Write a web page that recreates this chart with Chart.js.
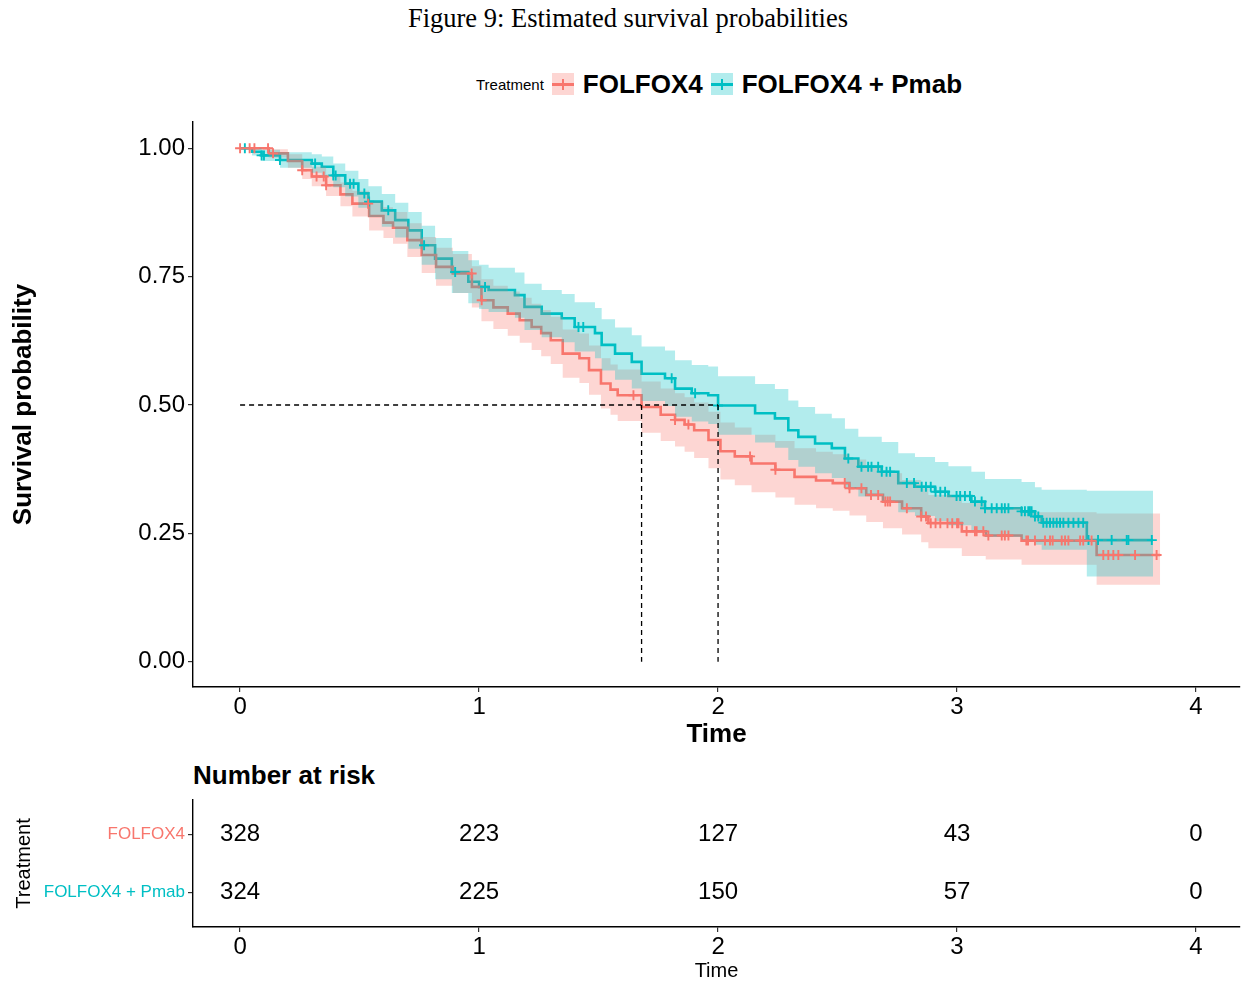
<!DOCTYPE html>
<html>
<head>
<meta charset="utf-8">
<script src="https://cdn.jsdelivr.net/npm/chart.js@4.4.0/dist/chart.umd.min.js"></script>
<style>
  body { margin:0; background:#fff; width:1241px; height:981px; position:relative; overflow:hidden;
         font-family:"Liberation Sans", Arial, sans-serif; color:#000; }
  canvas { position:absolute; left:0; }
  #km { top:0; }
  #risk { top:760px; }
  #title { position:absolute; top:3px; left:0; width:1256px; text-align:center;
           font-family:"Liberation Serif","Times New Roman",serif; font-size:26.5px; }
  #legend { position:absolute; top:70px; left:476px; display:flex; align-items:center; height:28px; }
  #legend .lab { font-size:15px; }
  #legend .key { position:relative; width:22px; height:22px; margin-left:8px; }
  #legend .key .h { position:absolute; left:0; right:0; top:10px; height:2.6px; }
  #legend .key .v { position:absolute; left:10px; top:6px; width:2px; height:11px; }
  #legend .name { font-size:26px; font-weight:bold; margin-left:9px; }
  #riskTitle { position:absolute; top:760px; left:193px; font-size:26px; font-weight:bold; }
</style>
</head>
<body>
<div id="title">Figure 9: Estimated survival probabilities</div>
<div id="legend"></div>
<canvas id="km" width="1241" height="760"></canvas>
<div id="riskTitle">Number at risk</div>
<canvas id="risk" width="1241" height="223"></canvas>
<script>
// ===== Data =====
const groups = ['FOLFOX4', 'FOLFOX4 + Pmab'];
const groupColors = ['#F8766D', '#00BFC4'];
const bandColors = ['rgba(248,118,109,0.3)', 'rgba(0,191,196,0.3)'];
const legendTitle = 'Treatment';

// FOLFOX4 : step times, survival, CI upper / lower
const f4Time  = [0, 0.12, 0.20, 0.26, 0.30, 0.36, 0.42, 0.47, 0.54, 0.60, 0.64, 0.70, 0.76, 0.82, 0.89, 0.97,
                 1.01, 1.06, 1.12, 1.17, 1.22, 1.26, 1.30, 1.35, 1.42, 1.46, 1.51, 1.55, 1.58, 1.68, 1.76, 1.82,
                 1.86, 1.90, 1.96, 2.01, 2.07, 2.14, 2.24, 2.32, 2.41, 2.48, 2.55, 2.62, 2.69, 2.77, 2.85, 2.88,
                 3.02, 3.12, 3.27, 3.584, 3.85];
const f4Surv  = [1.000, 0.990, 0.975, 0.957, 0.945, 0.928, 0.910, 0.892, 0.868, 0.855, 0.845, 0.821, 0.792, 0.769, 0.756, 0.730,
                 0.704, 0.690, 0.678, 0.665, 0.652, 0.640, 0.626, 0.600, 0.591, 0.568, 0.542, 0.530, 0.519, 0.496, 0.481, 0.471,
                 0.462, 0.451, 0.432, 0.410, 0.400, 0.386, 0.374, 0.360, 0.353, 0.348, 0.338, 0.325, 0.312, 0.299, 0.283, 0.270,
                 0.254, 0.246, 0.236, 0.208, 0.208];
const f4Upper = [1.000, 0.998, 0.988, 0.974, 0.964, 0.949, 0.933, 0.917, 0.896, 0.885, 0.876, 0.854, 0.827, 0.806, 0.794, 0.770,
                 0.745, 0.732, 0.721, 0.709, 0.697, 0.685, 0.672, 0.647, 0.639, 0.616, 0.591, 0.579, 0.569, 0.546, 0.532, 0.523,
                 0.515, 0.505, 0.487, 0.466, 0.456, 0.442, 0.430, 0.416, 0.409, 0.404, 0.394, 0.381, 0.367, 0.354, 0.338, 0.325,
                 0.309, 0.301, 0.291, 0.289, 0.289];
const f4Lower = [1.000, 0.982, 0.962, 0.940, 0.926, 0.907, 0.887, 0.867, 0.840, 0.825, 0.814, 0.788, 0.757, 0.732, 0.718, 0.690,
                 0.663, 0.648, 0.635, 0.621, 0.607, 0.595, 0.580, 0.553, 0.543, 0.520, 0.493, 0.481, 0.469, 0.446, 0.430, 0.419,
                 0.409, 0.397, 0.377, 0.355, 0.344, 0.330, 0.320, 0.306, 0.299, 0.294, 0.285, 0.272, 0.260, 0.248, 0.233, 0.221,
                 0.206, 0.199, 0.189, 0.150, 0.150];
const f4Censor = [0, 0.04, 0.06, 0.117, 0.138, 0.26, 0.32, 0.35, 0.36, 0.536, 0.969, 1.011, 1.646, 1.82, 1.876, 2.134,
                  2.24, 2.53, 2.55, 2.60, 2.64, 2.67, 2.70, 2.71, 2.72, 2.79, 2.85, 2.87, 2.89, 2.91, 2.93, 2.96, 2.98, 3.0,
                  3.006, 3.04, 3.075, 3.082, 3.11, 3.131, 3.187, 3.2, 3.215, 3.29, 3.297, 3.326, 3.368, 3.389, 3.40,
                  3.438, 3.452, 3.466, 3.515, 3.528, 3.563, 3.612, 3.633, 3.654, 3.675, 3.745, 3.835];

// FOLFOX4 + Pmab
const pmTime  = [0, 0.05, 0.09, 0.167, 0.30, 0.342, 0.39, 0.44, 0.495, 0.537, 0.593, 0.649, 0.704, 0.76, 0.816, 0.886,
                 0.955, 1.0, 1.04, 1.15, 1.19, 1.262, 1.346, 1.40, 1.485, 1.513, 1.569, 1.639, 1.68, 1.778, 1.82, 1.89,
                 1.959, 2.0, 2.155, 2.238, 2.294, 2.336, 2.406, 2.476, 2.531, 2.587, 2.685, 2.754, 2.824, 2.908, 2.964,
                 3.06, 3.117, 3.27, 3.326, 3.354, 3.543, 3.82];
const pmSurv  = [1.000, 0.993, 0.986, 0.977, 0.970, 0.964, 0.947, 0.931, 0.912, 0.896, 0.879, 0.860, 0.840, 0.811, 0.785, 0.759,
                 0.740, 0.730, 0.724, 0.714, 0.691, 0.678, 0.669, 0.652, 0.640, 0.617, 0.600, 0.584, 0.561, 0.552, 0.532, 0.523,
                 0.519, 0.499, 0.484, 0.474, 0.451, 0.438, 0.425, 0.416, 0.396, 0.380, 0.370, 0.348, 0.341, 0.331, 0.323,
                 0.312, 0.299, 0.293, 0.283, 0.271, 0.237, 0.237];
const pmUpper = [1.000, 1.000, 0.997, 0.992, 0.988, 0.984, 0.970, 0.956, 0.940, 0.926, 0.911, 0.894, 0.876, 0.849, 0.825, 0.800,
                 0.782, 0.773, 0.767, 0.758, 0.736, 0.724, 0.716, 0.700, 0.689, 0.667, 0.651, 0.636, 0.614, 0.606, 0.587, 0.578,
                 0.575, 0.556, 0.541, 0.531, 0.509, 0.496, 0.483, 0.474, 0.454, 0.438, 0.428, 0.406, 0.399, 0.389, 0.381,
                 0.370, 0.356, 0.350, 0.340, 0.335, 0.333, 0.333];
const pmLower = [1.000, 0.986, 0.975, 0.962, 0.952, 0.944, 0.924, 0.906, 0.884, 0.866, 0.847, 0.826, 0.804, 0.773, 0.745, 0.718,
                 0.698, 0.687, 0.681, 0.670, 0.646, 0.632, 0.622, 0.604, 0.591, 0.567, 0.549, 0.532, 0.508, 0.498, 0.477, 0.468,
                 0.463, 0.442, 0.427, 0.417, 0.393, 0.380, 0.367, 0.358, 0.338, 0.322, 0.312, 0.291, 0.284, 0.274, 0.266,
                 0.256, 0.243, 0.237, 0.228, 0.218, 0.166, 0.166];
const pmCensor = [0.02, 0.09, 0.10, 0.167, 0.314, 0.39, 0.40, 0.46, 0.475, 0.52, 0.54, 0.62, 0.77, 0.90, 1.025, 1.416,
                  1.436, 1.806, 1.904, 2.0, 2.545, 2.60, 2.628, 2.642, 2.67, 2.685, 2.705, 2.72, 2.79, 2.82, 2.852, 2.87,
                  2.89, 2.91, 2.93, 2.95, 2.998, 3.013, 3.033, 3.054, 3.075, 3.103, 3.117, 3.145, 3.166, 3.187, 3.2, 3.215,
                  3.27, 3.284, 3.298, 3.305, 3.312, 3.326, 3.34, 3.361, 3.375, 3.389, 3.403, 3.417, 3.431, 3.445, 3.466,
                  3.487, 3.508, 3.528, 3.55, 3.59, 3.647, 3.71, 3.717, 3.815];

const medianTimes = [1.68, 2.0];
const xTicks = [0, 1, 2, 3, 4];
const yTicks = [0, 0.25, 0.5, 0.75, 1];

// Number at risk table
const riskTimes = [0, 1, 2, 3, 4];
const riskF4 = [328, 223, 127, 43, 0];
const riskPm = [324, 225, 150, 57, 0];

// ===== Helpers =====
const FONT = '"Liberation Sans", Arial, sans-serif';
Chart.defaults.font.family = FONT;
Chart.defaults.color = '#000';

const pts = (xs, ys) => xs.map((x, i) => ({ x, y: ys[i] }));
function survAt(times, surv, t) {
  let s = surv[0];
  for (let i = 0; i < times.length; i++) if (times[i] <= t) s = surv[i];
  return s;
}
const setTicks = arr => s => { s.ticks = arr.map(v => ({ value: v })); };

const stepLine = (xs, ys, color, order) => ({
  data: pts(xs, ys), borderColor: color, borderWidth: 2.6, pointRadius: 0,
  stepped: true, fill: false, order
});
const bandEdge = (xs, ys, order) => ({
  data: pts(xs, ys), borderColor: 'transparent', borderWidth: 0, pointRadius: 0,
  stepped: true, fill: false, order
});
const bandFill = (xs, ys, color, order) => ({
  data: pts(xs, ys), borderColor: 'transparent', borderWidth: 0, pointRadius: 0,
  stepped: true, fill: '-1', backgroundColor: color, order
});
const censor = (times, st, ss, color) => ({
  data: times.map(t => ({ x: t, y: survAt(st, ss, t) })),
  showLine: false, pointStyle: 'cross', pointRadius: 5, pointBorderWidth: 1.9,
  pointBorderColor: color, borderColor: color, order: 2
});
const dashed = data => ({
  data, borderColor: '#000', borderWidth: 1.3, borderDash: [5, 4], pointRadius: 0, fill: false, order: 1
});

// ===== Legend (html) =====
const legendEl = document.getElementById('legend');
let lh = `<span class="lab">${legendTitle}</span>`;
groups.forEach((g, i) => {
  lh += `<span class="key" style="background:${bandColors[i]}">
           <span class="h" style="background:${groupColors[i]}"></span>
           <span class="v" style="background:${groupColors[i]}"></span></span>
         <span class="name">${g}</span>`;
});
legendEl.innerHTML = lh;

// ===== Survival chart =====
const maxMedian = Math.max(...medianTimes);
const datasets = [
  stepLine(f4Time, f4Surv, groupColors[0], 5),
  stepLine(pmTime, pmSurv, groupColors[1], 5),
  bandEdge(f4Time, f4Lower, 4),
  bandFill(f4Time, f4Upper, bandColors[0], 4),
  bandEdge(pmTime, pmLower, 3),
  bandFill(pmTime, pmUpper, bandColors[1], 3),
  censor(f4Censor, f4Time, f4Surv, groupColors[0]),
  censor(pmCensor, pmTime, pmSurv, groupColors[1]),
  dashed([{ x: 0, y: 0.5 }, { x: maxMedian, y: 0.5 }]),
  ...medianTimes.map(m => dashed([{ x: m, y: 0.5 }, { x: m, y: 0 }]))
];

const axisGrid = { drawOnChartArea: false, drawTicks: true, tickLength: 5, color: '#333', lineWidth: 1.2 };
const axisBorder = { display: true, color: '#000', width: 1.4 };

new Chart(document.getElementById('km'), {
  type: 'line',
  data: { datasets },
  options: {
    responsive: false, animation: false, events: [],
    layout: { autoPadding: false, padding: { top: 122, left: 0, right: 1, bottom: 0 } },
    plugins: { legend: { display: false }, tooltip: { enabled: false } },
    scales: {
      x: {
        type: 'linear', min: -0.197, max: 4.184,
        afterBuildTicks: setTicks(xTicks), afterFit: s => { s.height = 73; },
        grid: axisGrid, border: axisBorder,
        ticks: { font: { size: 24 }, padding: 1, maxRotation: 0, color: '#000' },
        title: { display: true, text: 'Time', font: { size: 26, weight: 'bold' }, padding: { top: 0, bottom: 10 } }
      },
      y: {
        type: 'linear', min: -0.049, max: 1.051,
        afterBuildTicks: setTicks(yTicks), afterFit: s => { s.width = 193; },
        grid: axisGrid, border: axisBorder,
        ticks: { font: { size: 24 }, padding: 3, color: '#000', callback: v => Number(v).toFixed(2) },
        title: { display: true, text: 'Survival probability', font: { size: 26, weight: 'bold' }, padding: { top: 8 } }
      }
    }
  }
});

// ===== Risk table =====
const riskText = {
  id: 'riskText',
  afterDatasetsDraw(chart) {
    const { ctx, scales: { x, y } } = chart;
    ctx.save();
    ctx.font = '24px ' + FONT;
    ctx.fillStyle = '#000';
    ctx.textAlign = 'center';
    ctx.textBaseline = 'middle';
    chart.data.datasets.forEach(ds => {
      ds.data.forEach((p, i) => ctx.fillText(String(ds.counts[i]), x.getPixelForValue(p.x), y.getPixelForValue(p.y)));
    });
    ctx.restore();
  }
};

new Chart(document.getElementById('risk'), {
  type: 'line',
  data: {
    datasets: [
      { data: riskTimes.map(t => ({ x: t, y: 1 })), counts: riskF4, showLine: false, pointRadius: 0 },
      { data: riskTimes.map(t => ({ x: t, y: 2 })), counts: riskPm, showLine: false, pointRadius: 0 }
    ]
  },
  plugins: [riskText],
  options: {
    responsive: false, animation: false, events: [],
    layout: { autoPadding: false, padding: { top: 40, left: 0, right: 1, bottom: 0 } },
    plugins: { legend: { display: false }, tooltip: { enabled: false } },
    scales: {
      x: {
        type: 'linear', min: -0.197, max: 4.184,
        afterBuildTicks: setTicks(xTicks), afterFit: s => { s.height = 56; },
        grid: axisGrid, border: axisBorder,
        ticks: { font: { size: 24 }, padding: 1, maxRotation: 0, color: '#000' },
        title: { display: true, text: 'Time', font: { size: 20 }, padding: { top: 0, bottom: 0 } }
      },
      y: {
        type: 'linear', min: 0.4, max: 2.6, reverse: true,
        afterBuildTicks: setTicks([1, 2]), afterFit: s => { s.width = 193; },
        grid: axisGrid, border: axisBorder,
        ticks: { font: { size: 17 }, padding: 3, color: c => groupColors[c.index], callback: v => groups[v - 1] },
        title: { display: true, text: 'Treatment', font: { size: 20 }, padding: { top: 12 } }
      }
    }
  }
});
</script>
</body>
</html>
